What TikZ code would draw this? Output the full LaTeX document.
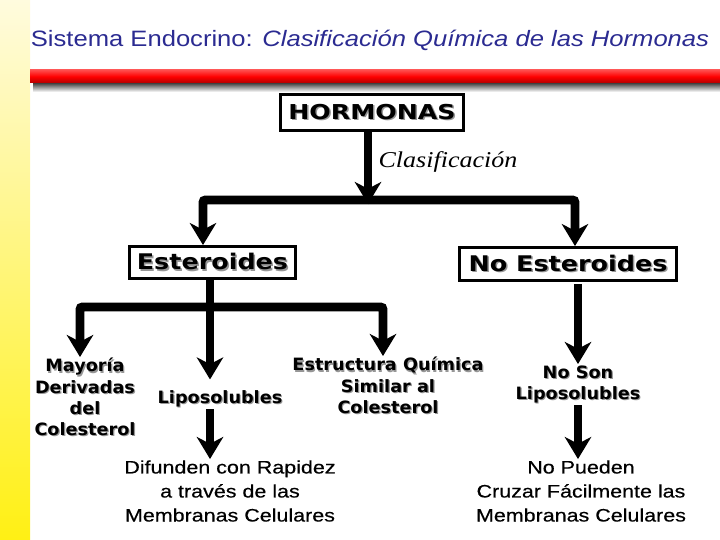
\documentclass[tikz,border=0pt]{standalone}
\usepackage{fontspec}
\setmainfont{Liberation Sans}
\newfontfamily\titfont[FakeStretch=1.15]{Liberation Sans}
\newfontfamily\parrafo[FakeStretch=1.19,FakeBold=0.4]{Liberation Sans}
\newfontfamily\negfont[FakeStretch=1.04]{DejaVu Sans}
\newfontfamily\cajafont[FakeStretch=1.18]{DejaVu Sans}
\newfontfamily\hormfont[FakeStretch=1.23]{DejaVu Sans}
\newfontfamily\clasfont[FakeStretch=1.15]{Liberation Serif}
\definecolor{titazul}{RGB}{43,43,145}
\definecolor{amarillo}{RGB}{255,240,20}
\definecolor{amarillopal}{RGB}{255,251,222}
\definecolor{sombragris}{RGB}{150,150,150}
\usetikzlibrary{arrows.meta,positioning,calc}
\newcommand\sombra[1]{\makebox[0pt][l]{\hspace{0.07em}\raisebox{-0.07em}{\textcolor{sombragris}{#1}}}#1}
\def\upx{0.03cm}

\begin{document}
\begin{tikzpicture}[x=0.03cm,y=-0.03cm,
  caja/.style={draw,line width=2.5pt,inner sep=0pt,
    font=\cajafont\bfseries\fontsize{18.4pt}{20pt}\selectfont},
  etiq/.style={align=center,inner sep=1pt,
    font=\negfont\bfseries\fontsize{14.5pt}{18pt}\selectfont},
  texto/.style={align=center,inner sep=1pt,
    font=\parrafo\fontsize{15.4pt}{20.5pt}\selectfont},
  flecha/.style={line width=7.5pt,rounded corners=2pt,
    -{Stealth[length=19pt,width=23pt,inset=6pt,line width=0pt]}}
]
  \useasboundingbox (0,0) rectangle (720,540);
  % fondo
  \shade[top color=amarillopal,bottom color=amarillo] (0,0) rectangle (30,540);
  \shade[top color=black!75,bottom color=white] (33,83) rectangle (720,92);
  \shade[top color=red!70!white,bottom color=red!70!black,middle color=red] (30,70) rectangle (720,83);
  \node[font=\titfont\fontsize{19pt}{22pt}\selectfont,text=titazul] (titulo) at (370,40)
    {Sistema Endocrino: \textit{Clasificación Química de las Hormonas}};

  % cajas
  \node[caja,font=\hormfont\bfseries\fontsize{17.5pt}{20pt}\selectfont,
    minimum width=183*\upx,minimum height=36*\upx] (hormonas) at (372,112.5) {\sombra{HORMONAS}};
  \node[caja,minimum width=166*\upx,minimum height=32*\upx] (esteroides) at (212.5,262.5) {\sombra{Esteroides}};
  \node[caja,minimum width=217*\upx,minimum height=33*\upx] (noest) at (568,264) {\sombra{No Esteroides}};

  % etiquetas
  \node[etiq,anchor=north] (mayoria) at (85,357) {\sombra{Mayoría}\\\sombra{Derivadas}\\\sombra{del}\\\sombra{Colesterol}};
  \node[etiq] (lipo) at (220,399) {\sombra{Liposolubles}};
  \node[etiq,anchor=north] (estructura) at (388,356) {\sombra{Estructura Química}\\\sombra{Similar al}\\\sombra{Colesterol}};
  \node[etiq,anchor=north] (nson) at (578,364) {\sombra{No Son}\\\sombra{Liposolubles}};
  \node[texto,anchor=north] (difunden) at (230,459) {Difunden con Rapidez\\a través de las\\Membranas Celulares};
  \node[texto,anchor=north] (nopueden) at (581,459) {No Pueden\\Cruzar Fácilmente las\\Membranas Celulares};

  \coordinate (b1) at (368,200);
  \coordinate (e1) at (203,0);
  \coordinate (n1) at (575,0);
  \coordinate (b2) at (210,307);
  \coordinate (m1) at (80,0);
  \coordinate (s1) at (383,0);
  \coordinate (n2) at (578,0);

  % conectores
  \draw[flecha] (hormonas.south -| b1) -- node[right,xshift=2pt,pos=0.42,
    font=\clasfont\itshape\fontsize{19.3pt}{20pt}\selectfont] {Clasificación} ([yshift=-4*\upx]b1);
  \draw[flecha] (b1) -| (e1 |- esteroides.north);
  \draw[flecha] (b1) -| (n1 |- noest.north);
  \draw[flecha,shorten >=8pt] (esteroides.south -| b2) -- (b2 |- lipo.north);
  \draw[flecha] (b2) -| (m1 |- mayoria.north);
  \draw[flecha] (b2) -| (s1 |- estructura.north);
  \draw[flecha,shorten <=2pt] (noest.south -| n2) -- (n2 |- nson.north);
  \draw[flecha] (lipo.south -| b2) -- (b2 |- difunden.north);
  \draw[flecha] (nson.south -| n2) -- (n2 |- nopueden.north);
\end{tikzpicture}
\end{document}
